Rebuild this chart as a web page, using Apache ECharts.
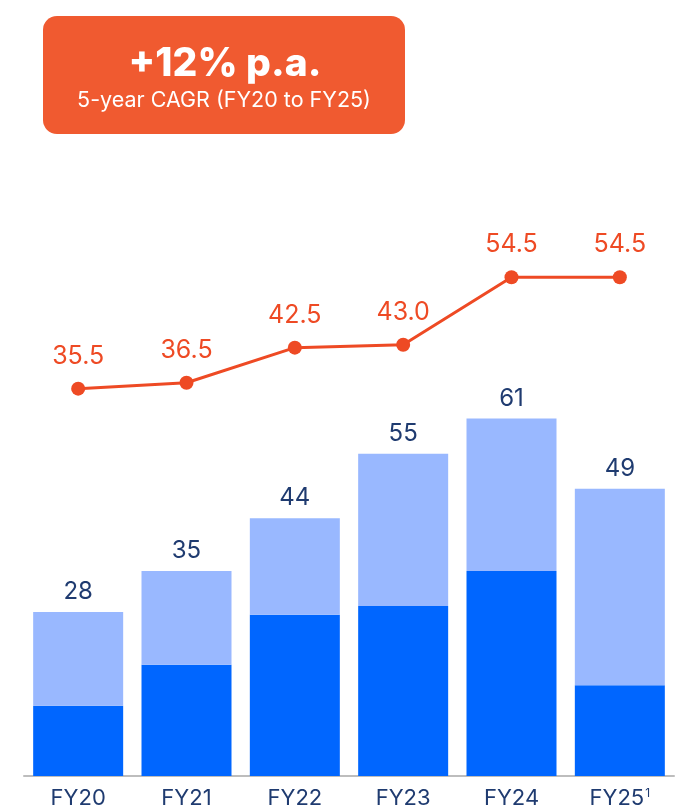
<!DOCTYPE html>
<html>
<head>
<meta charset="utf-8">
<script src="https://cdn.jsdelivr.net/npm/echarts@6/dist/echarts.min.js"></script>
<style>
  html, body { margin: 0; padding: 0; background: #fff; }
  #chart { width: 687px; height: 812px; }
</style>
</head>
<body>
<div id="chart"></div>
<script>
// data
const years = ['FY20', 'FY21', 'FY22', 'FY23', 'FY24', 'FY25'];
const darkPart = [12, 19, 27.5, 29, 35, 15.5];
const lightPart = [16, 16, 16.5, 26, 26, 33.5];
const totals = [28, 35, 44, 55, 61, 49];
const lineValues = [35.5, 36.5, 42.5, 43.0, 54.5, 54.5];

const navy = '#1F3B70';
const orange = '#EE4A24';

const chart = echarts.init(document.getElementById('chart'));

chart.setOption({
  animation: false,
  textStyle: { fontFamily: 'Inter, Roboto, sans-serif' },
  grid: { left: 24, right: 13, top: 190, bottom: 36 },
  graphic: [
    {
      type: 'rect',
      left: 43, top: 16,
      shape: { width: 362, height: 118, r: 14 },
      style: { fill: '#F05A30' }
    },
    {
      type: 'text',
      style: {
        text: '+12% p.a.',
        x: 225, y: 64,
        fill: '#fff',
        font: '800 39px Inter, Roboto, sans-serif',
        textAlign: 'center',
        textVerticalAlign: 'middle'
      }
    },
    {
      type: 'text',
      style: {
        text: '5-year CAGR (FY20 to FY25)',
        x: 224, y: 101,
        fill: '#fff',
        font: '21.5px Inter, Roboto, sans-serif',
        textAlign: 'center',
        textVerticalAlign: 'middle'
      }
    }
  ],
  xAxis: {
    type: 'category',
    data: years,
    axisTick: { show: false },
    axisLine: { lineStyle: { color: '#BDBDBD', width: 2 } },
    axisLabel: {
      interval: 0,
      margin: 11,
      color: navy,
      fontSize: 22,
      formatter: v => v === 'FY25' ? v + '{sup|1}' : v,
      rich: {
        sup: { fontSize: 12, color: navy, verticalAlign: 'top', padding: [0, 0, 10, 1] }
      }
    }
  },
  yAxis: [
    { type: 'value', min: 0, max: 100, show: false },
    { type: 'value', min: -30.6, max: 69.4, show: false }
  ],
  series: [
    {
      type: 'bar',
      stack: 'rev',
      barWidth: 90,
      data: darkPart,
      itemStyle: { color: '#0066FF' }
    },
    {
      type: 'bar',
      stack: 'rev',
      barWidth: 90,
      data: lightPart,
      itemStyle: { color: '#99B8FF' },
      label: {
        show: true,
        position: 'top',
        distance: 8,
        color: navy,
        fontSize: 24,
        formatter: p => totals[p.dataIndex]
      }
    },
    {
      type: 'line',
      yAxisIndex: 1,
      data: lineValues,
      symbol: 'circle',
      symbolSize: 14,
      lineStyle: { color: orange, width: 3 },
      itemStyle: { color: orange },
      label: {
        show: true,
        position: 'top',
        distance: 13,
        color: orange,
        fontSize: 25,
        formatter: p => p.value.toFixed(1)
      }
    }
  ]
});
</script>
</body>
</html>
